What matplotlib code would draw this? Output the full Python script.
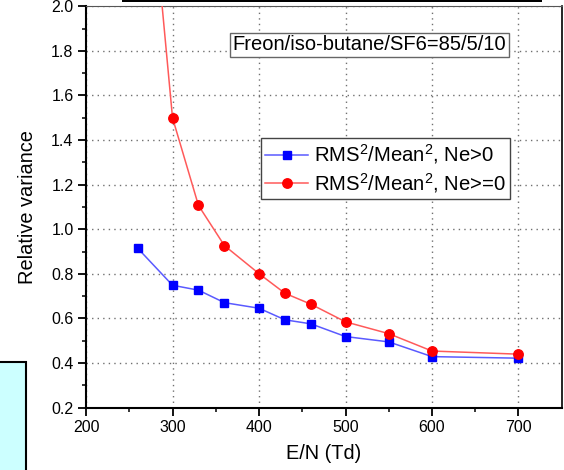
import matplotlib
matplotlib.use("Agg")
import matplotlib.pyplot as plt
from matplotlib.patches import Rectangle

plt.rcParams['font.family'] = ['Liberation Sans', 'DejaVu Sans']
plt.rcParams['mathtext.fontset'] = 'custom'
plt.rcParams['mathtext.rm'] = 'Liberation Sans'
plt.rcParams['mathtext.default'] = 'regular'

# E/N in Td
en_pos = [260, 300, 330, 360, 400, 430, 460, 500, 550, 600, 700]
var_pos = [0.914, 0.749, 0.727, 0.671, 0.646, 0.594, 0.576, 0.519, 0.495, 0.429, 0.422]

en_all = [260, 300, 330, 360, 400, 430, 460, 500, 550, 600, 700]
var_all = [3.17, 1.50, 1.107, 0.927, 0.801, 0.713, 0.664, 0.585, 0.532, 0.454, 0.440]

label_pos = "RMS$^2$/Mean$^2$, Ne>0"
label_all = "RMS$^2$/Mean$^2$, Ne>=0"
gas_text = "Freon/iso-butane/SF6=85/5/10"

fig = plt.figure(figsize=(5.64, 4.70), dpi=100)
ax = fig.add_axes([0.1525, 0.1326, 0.8435, 0.854])

ax.plot(en_pos, var_pos, color="#5a5aff", lw=1.1, marker="s", ms=6.2,
        mfc="blue", mec="blue", label=label_pos, zorder=3)
ax.plot(en_all, var_all, color="#ff5a5a", lw=1.1, marker="o", ms=6.8,
        mfc="red", mec="red", label=label_all, zorder=3)

ax.set_xlim(200, 750)
ax.set_ylim(0.2, 2.0)
ax.set_xticks([200, 300, 400, 500, 600, 700])
ax.set_xticks([250, 350, 450, 550, 650], minor=True)
ax.set_yticks([0.2, 0.4, 0.6, 0.8, 1.0, 1.2, 1.4, 1.6, 1.8, 2.0])
ax.set_yticks([0.3, 0.5, 0.7, 0.9, 1.1, 1.3, 1.5, 1.7, 1.9], minor=True)
ax.yaxis.set_major_formatter(matplotlib.ticker.FormatStrFormatter('%.1f'))

ax.grid(True, which="major", color="#707070", linestyle=(0, (1, 3)), lw=1.0)
ax.tick_params(which="major", direction="out", length=6, width=1.3, labelsize=11.5, pad=3)
ax.tick_params(which="minor", direction="out", length=3, width=1.1)
for side in ["left", "bottom"]:
    ax.spines[side].set_linewidth(1.5)
ax.spines["right"].set_linewidth(1.2)
ax.spines["top"].set_linewidth(0.8)
ax.spines["top"].set_color("#555555")

ax.set_xlabel("E/N (Td)", fontsize=14.4, labelpad=6)
ax.set_ylabel("Relative variance", fontsize=14.4, labelpad=10)

leg = ax.legend(loc="upper right", bbox_to_anchor=(0.891, 0.671), borderaxespad=0,
                fontsize=14.6, numpoints=1, fancybox=False, framealpha=1,
                edgecolor="#444444", handlelength=2.1, handletextpad=0.3,
                borderpad=0.2, labelspacing=0.25)
leg.get_frame().set_linewidth(1.0)

ax.text(0.5956, 0.9036, gas_text, transform=ax.transAxes, ha="center", va="center",
        fontsize=14.5, bbox=dict(boxstyle="square,pad=0.12", fc="white", ec="#666666", lw=1.0),
        zorder=4)

# bits of neighbouring slide content
fig.add_artist(Rectangle((121.7 / 564, 1 - 1.8 / 470), 420 / 564, 3 / 470,
                         transform=fig.transFigure, fc="black", ec="none"))
fig.add_artist(Rectangle((-0.01, -0.01), 0.01 + 26.3 / 564, 0.01 + (470 - 361.7) / 470,
                         transform=fig.transFigure, fc="#ccffff", ec="black", lw=1.5))

fig.savefig("out.png", dpi=100)
